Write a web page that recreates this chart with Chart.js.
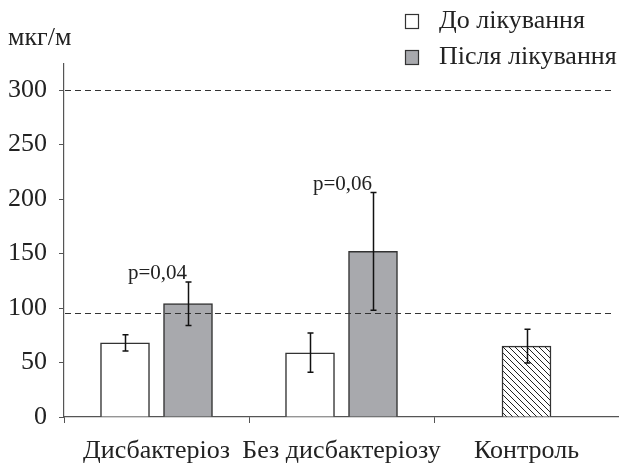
<!DOCTYPE html>
<html>
<head>
<meta charset="utf-8">
<script src="https://cdn.jsdelivr.net/npm/chart.js@4.4.0/dist/chart.umd.min.js"></script>
<style>
  body { margin: 0; background: #fff; }
  canvas { display: block; }
</style>
</head>
<body>
<canvas id="myChart" width="619" height="465"></canvas>
<script>
const categories = ["Дисбактеріоз", "Без дисбактеріозу", "Контроль"];
const seriesNames = ["До лікування", "Після лікування", "Контроль"];
const beforeValues = [68, 59, null];
const afterValues = [104, 152, null];
const controlValues = [null, null, 65];
const beforeErr = [7.5, 18, null];
const afterErr = [20, 54, null];
const controlErr = [null, null, 15.5];
const pLabels = ["p=0,04", "p=0,06", null];
const refLines = [300, 95];
const yTicks = [0, 50, 100, 150, 200, 250, 300];
const yTitle = "мкг/м";

const serif = "'Liberation Serif', 'DejaVu Serif', serif";
const ink = "#222";

// diagonal hatch for the control bar
function hatch() {
    const c = document.createElement("canvas");
    c.width = 6;
    c.height = 6;
    const g = c.getContext("2d");
    g.fillStyle = "#fff";
    g.fillRect(0, 0, 6, 6);
    g.strokeStyle = "#222";
    g.lineWidth = 1;
    g.beginPath();
    g.moveTo(-1, -1); g.lineTo(7, 7);
    g.moveTo(-1, 5); g.lineTo(1, 7);
    g.moveTo(5, -1); g.lineTo(7, 1);
    g.stroke();
    return g.createPattern(c, "repeat");
}

const errors = [beforeErr, afterErr, controlErr];

const extrasPlugin = {
    id: "extras",
    afterDatasetsDraw: (chart) => {
        const ctx = chart.ctx;
        const y = chart.scales.y;
        const area = chart.chartArea;
        ctx.save();

        // dashed reference lines
        ctx.strokeStyle = "#333";
        ctx.lineWidth = 1.2;
        ctx.setLineDash([6, 4]);
        refLines.forEach((v) => {
            const py = Math.round(y.getPixelForValue(v)) + 0.5;
            ctx.beginPath();
            ctx.moveTo(area.left + 1, py);
            ctx.lineTo(area.right - 5, py);
            ctx.stroke();
        });
        ctx.setLineDash([]);

        // error bars
        ctx.strokeStyle = "#111";
        ctx.lineWidth = 1.5;
        chart.data.datasets.forEach((ds, i) => {
            const meta = chart.getDatasetMeta(i);
            ds.data.forEach((v, j) => {
                const e = errors[i][j];
                if (v === null || e === null) return;
                const x = Math.round(meta.data[j].x) + 0.5;
                const top = y.getPixelForValue(v + e);
                const bot = y.getPixelForValue(v - e);
                ctx.beginPath();
                ctx.moveTo(x, top); ctx.lineTo(x, bot);
                ctx.moveTo(x - 3, top); ctx.lineTo(x + 3, top);
                ctx.moveTo(x - 3, bot); ctx.lineTo(x + 3, bot);
                ctx.stroke();
            });
        });

        // p-values above the "after" bars
        ctx.fillStyle = ink;
        ctx.font = "21px " + serif;
        ctx.textAlign = "right";
        ctx.textBaseline = "alphabetic";
        const afterMeta = chart.getDatasetMeta(1);
        pLabels.forEach((t, j) => {
            if (!t) return;
            const x = afterMeta.data[j].x - 1;
            const top = y.getPixelForValue(afterValues[j] + afterErr[j]);
            ctx.fillText(t, x, top - 3);
        });

        // axis title
        ctx.textAlign = "left";
        ctx.font = "26px " + serif;
        ctx.fillText(yTitle, 8, 45);

        // legend
        ctx.font = "26px " + serif;
        ctx.textBaseline = "middle";
        [0, 1].forEach((i) => {
            const ds = chart.data.datasets[i];
            const by = 14 + i * 36;
            ctx.fillStyle = ds.backgroundColor;
            ctx.fillRect(405, by, 13, 14);
            ctx.strokeStyle = "#333";
            ctx.lineWidth = 1.2;
            ctx.strokeRect(405.5, by + 0.5, 13, 14);
            ctx.fillStyle = ink;
            ctx.fillText(ds.label, 439, by + 7);
        });
        ctx.restore();
    },
};

new Chart(document.getElementById("myChart"), {
    type: "bar",
    data: {
        labels: categories,
        datasets: [
            {
                label: seriesNames[0],
                data: beforeValues,
                backgroundColor: "#ffffff",
                borderColor: "#333",
                borderWidth: 1.5,
            },
            {
                label: seriesNames[1],
                data: afterValues,
                backgroundColor: "#a8a9ad",
                borderColor: "#333",
                borderWidth: 1.5,
            },
            {
                label: seriesNames[2],
                data: controlValues,
                backgroundColor: hatch(),
                borderColor: "#333",
                borderWidth: 1.5,
            },
        ],
    },
    options: {
        responsive: false,
        animation: false,
        skipNull: true,
        barThickness: 63,
        maxBarThickness: 49,
        layout: { padding: { top: 64, right: 0, left: 0, bottom: 0 } },
        plugins: {
            legend: { display: false },
            tooltip: { enabled: false },
        },
        scales: {
            x: {
                afterFit: (s) => { s.height = 48; },
                grid: {
                    offset: true,
                    drawOnChartArea: false,
                    tickLength: 6,
                    color: "#555",
                },
                border: { color: "#555", width: 1.2 },
                ticks: {
                    color: ink,
                    padding: 13,
                    maxRotation: 0,
                    minRotation: 0,
                    autoSkip: false,
                    font: { family: serif, size: 26 },
                },
            },
            y: {
                min: 0,
                max: 324,
                afterFit: (s) => { s.width = 64; },
                afterBuildTicks: (s) => {
                    s.ticks = yTicks.map((v) => ({ value: v }));
                },
                grid: {
                    drawOnChartArea: false,
                    tickLength: 5,
                    color: "#555",
                },
                border: { color: "#555", width: 1.2 },
                ticks: {
                    color: ink,
                    padding: 12,
                    font: { family: serif, size: 26 },
                },
            },
        },
    },
    plugins: [extrasPlugin],
});
</script>
</body>
</html>
